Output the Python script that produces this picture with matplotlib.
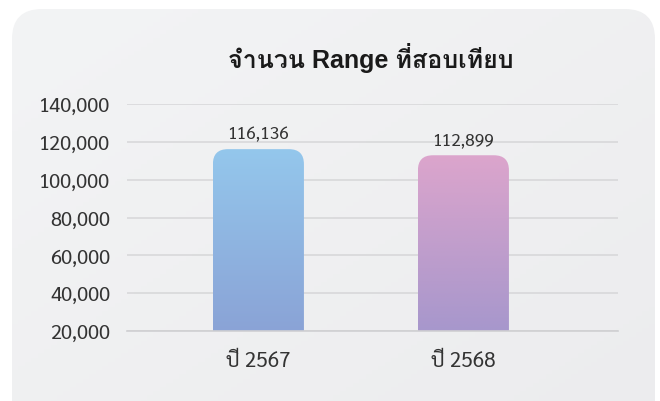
import numpy as np
import matplotlib
matplotlib.use("Agg")
import matplotlib.pyplot as plt
from matplotlib.patches import FancyBboxPatch
from matplotlib.colors import LinearSegmentedColormap
from matplotlib.ticker import FuncFormatter

years = ['ปี 2567', 'ปี 2568']
counts = [116136, 112899]
bar_colors = [('#94c7ec', '#8aa3d6'), ('#dca5cc', '#a797cc')]
title = 'จำนวน Range ที่สอบเทียบ'

label_font = ['Sarabun', 'DejaVu Sans']
# Loma keeps the tone mark above the upper vowel without shaping
title_font = ['Liberation Sans', 'Loma']

W, H = 660, 402
fig = plt.figure(figsize=(W / 100, H / 100), dpi=100)
fig.patch.set_facecolor('white')

# card behind the chart
bg = fig.add_axes([0, 0, 1, 1], zorder=0)
bg.set_xlim(0, W)
bg.set_ylim(H, 0)
bg.axis('off')
card = FancyBboxPatch((12, 10), 643, 420, boxstyle='round,pad=0,rounding_size=30',
                      facecolor='none', edgecolor='none')
bg.add_patch(card)
yy, xx = np.mgrid[0:1:100j, 0:1:100j]
shade = (xx + yy) / 2
card_cmap = LinearSegmentedColormap.from_list('card', ['#f3f4f5', '#ececee'])
im = bg.imshow(shade, extent=[12, 655, 430, 10], cmap=card_cmap, aspect='auto', zorder=0)
im.set_clip_path(card)

ax = fig.add_axes([127 / W, 1 - 332 / H, (618 - 127) / W, (332 - 105) / H], zorder=1)
ax.set_facecolor('none')
ax.set_yticks(np.arange(20000, 140001, 20000))
ax.yaxis.set_major_formatter(FuncFormatter(lambda v, p: f'{int(v):,}'))
ax.grid(axis='y', color='#d8d8da', lw=1.2)
ax.set_axisbelow(True)
for s in ['top', 'right', 'left']:
    ax.spines[s].set_visible(False)
ax.spines['bottom'].set_color('#cfcfd2')
ax.spines['bottom'].set_linewidth(1.2)
ax.tick_params(axis='y', length=0, pad=12, labelsize=14.5, labelcolor='#333333')
ax.tick_params(axis='x', length=0, pad=14, labelsize=15, labelcolor='#333333')
ax.set_xticks(range(len(years)))
ax.set_xticklabels(years)
for lab in ax.get_xticklabels() + ax.get_yticklabels():
    lab.set_family(label_font)

bw = 0.444
rx = 15 / 205.0
ry = 15 / (227 / 120000)
for i, (v, (c_top, c_bot)) in enumerate(zip(counts, bar_colors)):
    x0 = i - bw / 2
    shape = FancyBboxPatch((x0, 0), bw, v, boxstyle=f'round,pad=0,rounding_size={rx}',
                           mutation_aspect=ry / rx, facecolor='none', edgecolor='none',
                           transform=ax.transData)
    ax.add_patch(shape)
    cmap = LinearSegmentedColormap.from_list(f'bar{i}', [c_bot, c_top])
    grad = np.linspace(0, 1, 256).reshape(-1, 1)
    g = ax.imshow(grad, extent=[x0, x0 + bw, 20000, v], origin='lower', cmap=cmap,
                  aspect='auto', zorder=2)
    g.set_clip_path(shape)
    ax.annotate(f'{v:,}', (i, v), xytext=(0, 5), textcoords='offset points',
                ha='center', va='bottom', fontsize=12.5, color='#333333', family=label_font)

ax.set_xlim(-0.641, 1.754)
ax.set_ylim(20000, 140000)

fig.text(371 / W, 1 - 58 / H, title, ha='center', va='center', fontsize=18,
         fontweight='bold', color='#1a1a1a', family=title_font)

fig.savefig('out.png', dpi=100)
